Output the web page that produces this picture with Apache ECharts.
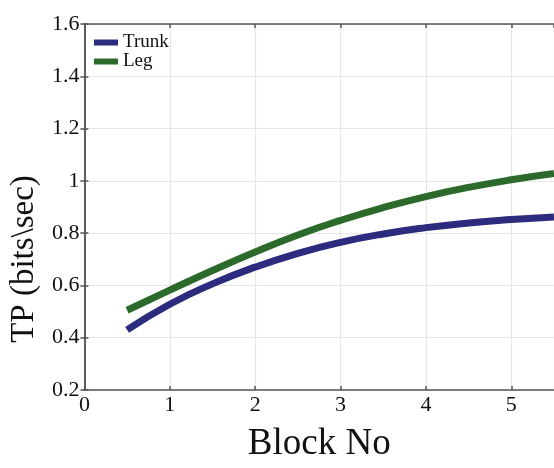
<!DOCTYPE html>
<html>
<head>
<meta charset="utf-8">
<style>
  html, body { margin: 0; padding: 0; background: #ffffff; }
  #chart { width: 554px; height: 468px; }
</style>
<script src="https://cdn.jsdelivr.net/npm/echarts@6/dist/echarts.min.js"></script>
</head>
<body>
<div id="chart"></div>
<script>
// Throughput per block for the two body segments
const blocks = [0.5, 1, 1.5, 2, 2.5, 3, 3.5, 4, 4.5, 5, 5.5];
const trunkTP = [0.43, 0.528, 0.606, 0.67, 0.723, 0.765, 0.797, 0.821, 0.839, 0.852, 0.862];
const legTP = [0.505, 0.582, 0.657, 0.728, 0.793, 0.849, 0.898, 0.94, 0.975, 1.004, 1.028];
const seriesNames = ['Trunk', 'Leg'];
const seriesColors = ['#2c2b7d', '#2c6a2b'];

const FONT = 'Liberation Serif';
const AXIS_COLOR = '#555555';

const pairs = (xs, ys) => xs.map((x, i) => [x, ys[i]]);

const spine = {
  axisLine: { show: true, lineStyle: { color: AXIS_COLOR, width: 1.5 } },
  axisTick: { show: true, inside: true, length: 4, lineStyle: { color: AXIS_COLOR, width: 1.5 } }
};

const chart = echarts.init(document.getElementById('chart'), null, { renderer: 'canvas' });
chart.setOption({
  backgroundColor: '#ffffff',
  animation: false,
  textStyle: { fontFamily: FONT },
  grid: { left: 82, top: 24, width: 475, height: 376, containLabel: false },
  legend: {
    orient: 'vertical',
    left: 89,
    top: 28,
    itemWidth: 24,
    itemHeight: 6,
    itemGap: 0,
    icon: 'rect',
    data: seriesNames,
    textStyle: { fontFamily: FONT, fontSize: 19, color: '#111', lineHeight: 18, padding: [0, 0, 0, 0] }
  },
  xAxis: [
    {
      type: 'value', min: 0, max: 5.5, interval: 1, position: 'bottom',
      name: 'Block No', nameLocation: 'middle', nameGap: 36,
      nameTextStyle: { fontFamily: FONT, fontSize: 37, color: '#111' },
      ...spine,
      axisLabel: { show: true, fontFamily: FONT, fontSize: 22, color: '#111', margin: 4, showMaxLabel: false },
      splitLine: { show: true, lineStyle: { color: '#e6e6e6', width: 1.2 } }
    },
    {
      type: 'value', min: 0, max: 5.5, interval: 1, position: 'top',
      ...spine,
      axisLabel: { show: false },
      splitLine: { show: false }
    }
  ],
  yAxis: [
    {
      type: 'value', min: 0.2, max: 1.6, interval: 0.2, position: 'left',
      name: 'TP (bits\\sec)', nameLocation: 'middle', nameGap: 33,
      nameTextStyle: { fontFamily: FONT, fontSize: 33, color: '#111', padding: [0, 104, 0, 0] },
      ...spine,
      axisLabel: { show: true, fontFamily: FONT, fontSize: 22, color: '#111', margin: 5 },
      splitLine: { show: true, lineStyle: { color: '#e6e6e6', width: 1.2 } }
    },
    {
      type: 'value', min: 0.2, max: 1.6, interval: 0.2, position: 'right',
      ...spine,
      axisLabel: { show: false },
      splitLine: { show: false }
    }
  ],
  series: [
    {
      name: seriesNames[0], type: 'line', smooth: true, showSymbol: false,
      data: pairs(blocks, trunkTP),
      color: seriesColors[0],
      lineStyle: { width: 7, color: seriesColors[0], cap: 'butt' }
    },
    {
      name: seriesNames[1], type: 'line', smooth: true, showSymbol: false,
      data: pairs(blocks, legTP),
      color: seriesColors[1],
      lineStyle: { width: 7, color: seriesColors[1], cap: 'butt' }
    }
  ]
});
</script>
</body>
</html>
